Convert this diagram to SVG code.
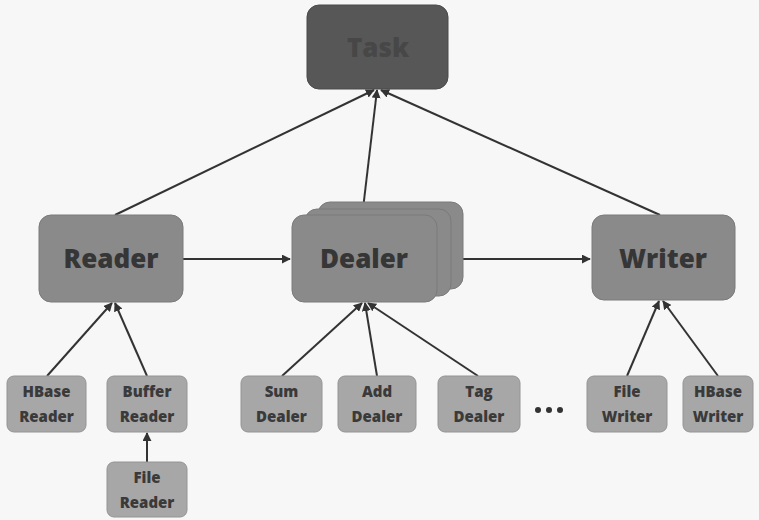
<svg xmlns="http://www.w3.org/2000/svg" width="759" height="520" viewBox="0 0 759 520">
<defs>
<marker id="ah" viewBox="0 0 10 10" refX="9" refY="5" markerWidth="9" markerHeight="9" markerUnits="userSpaceOnUse" orient="auto">
<path d="M0,0 L10,5 L0,10 Z" fill="#333"/>
</marker>
<style>
.big{fill:#8a8a8a;stroke:#7a7a7a;stroke-width:1}
.sm{fill:#a7a7a7;stroke:#949494;stroke-width:1}
.bt{font-family:"Open Sans","DejaVu Sans",sans-serif;font-weight:800;font-size:26px;fill:#363636;text-anchor:middle}
.st{font-family:"Open Sans","DejaVu Sans",sans-serif;font-weight:800;font-size:15px;fill:#3a3a3a;text-anchor:middle}
.ln{stroke:#333;stroke-width:2;fill:none;marker-end:url(#ah)}
</style>
</defs>
<rect width="759" height="520" fill="#f7f7f7"/>
<g id="connectors">
<line class="ln" x1="115" y1="215" x2="374" y2="90"/>
<line class="ln" x1="363" y1="209" x2="377" y2="90"/>
<line class="ln" x1="660" y1="215" x2="381" y2="90"/>
<line class="ln" x1="183" y1="259" x2="290" y2="259"/>
<line class="ln" x1="463" y1="259" x2="590" y2="259"/>
<line class="ln" x1="47" y1="376" x2="112" y2="303"/>
<line class="ln" x1="147" y1="376" x2="115" y2="303"/>
<line class="ln" x1="147" y1="462" x2="147" y2="433"/>
<line class="ln" x1="282" y1="376" x2="362" y2="303"/>
<line class="ln" x1="377" y1="376" x2="365" y2="303"/>
<line class="ln" x1="478" y1="376" x2="368" y2="303"/>
<line class="ln" x1="627" y1="376" x2="659" y2="301"/>
<line class="ln" x1="718" y1="376" x2="663" y2="301"/>
</g>
<g id="task">
<rect x="307" y="5" width="141" height="84" rx="12" fill="#575757" stroke="#4a4a4a"/>
<text x="378" y="57" class="bt" style="fill:#474747">Task</text>
</g>
<g id="reader">
<rect class="big" x="39" y="215" width="144" height="87" rx="12"/>
<text class="bt" x="111" y="268">Reader</text>
</g>
<g id="dealer">
<rect class="big" x="318" y="202" width="145" height="87" rx="12" stroke="#555"/>
<rect class="big" x="305" y="209" width="146" height="87" rx="12" stroke="#555"/>
<rect class="big" x="292" y="215" width="145" height="87" rx="12"/>
<text class="bt" x="364" y="268">Dealer</text>
</g>
<g id="writer">
<rect class="big" x="592" y="215" width="143" height="85" rx="12"/>
<text class="bt" x="663" y="268">Writer</text>
</g>
<g id="hbase-reader">
<rect class="sm" x="7" y="376" width="79" height="56" rx="7"/>
<text class="st" x="46.5" y="397">HBase</text>
<text class="st" x="46.5" y="422">Reader</text>
</g>
<g id="buffer-reader">
<rect class="sm" x="107" y="376" width="80" height="56" rx="7"/>
<text class="st" x="147" y="397">Buffer</text>
<text class="st" x="147" y="422">Reader</text>
</g>
<g id="file-reader">
<rect class="sm" x="107" y="462" width="80" height="55" rx="7"/>
<text class="st" x="147" y="483">File</text>
<text class="st" x="147" y="508">Reader</text>
</g>
<g id="sum-dealer">
<rect class="sm" x="241" y="376" width="81" height="56" rx="7"/>
<text class="st" x="281.5" y="397">Sum</text>
<text class="st" x="281.5" y="422">Dealer</text>
</g>
<g id="add-dealer">
<rect class="sm" x="338" y="376" width="78" height="56" rx="7"/>
<text class="st" x="377" y="397">Add</text>
<text class="st" x="377" y="422">Dealer</text>
</g>
<g id="tag-dealer">
<rect class="sm" x="438" y="376" width="82" height="56" rx="7"/>
<text class="st" x="479" y="397">Tag</text>
<text class="st" x="479" y="422">Dealer</text>
</g>
<g id="ellipsis">
<circle cx="538" cy="410" r="3" fill="#333"/>
<circle cx="549" cy="410" r="3" fill="#333"/>
<circle cx="560" cy="410" r="3" fill="#333"/>
</g>
<g id="file-writer">
<rect class="sm" x="587" y="376" width="80" height="56" rx="7"/>
<text class="st" x="627" y="397">File</text>
<text class="st" x="627" y="422">Writer</text>
</g>
<g id="hbase-writer">
<rect class="sm" x="683" y="376" width="70" height="56" rx="7"/>
<text class="st" x="718" y="397">HBase</text>
<text class="st" x="718" y="422">Writer</text>
</g>
</svg>
